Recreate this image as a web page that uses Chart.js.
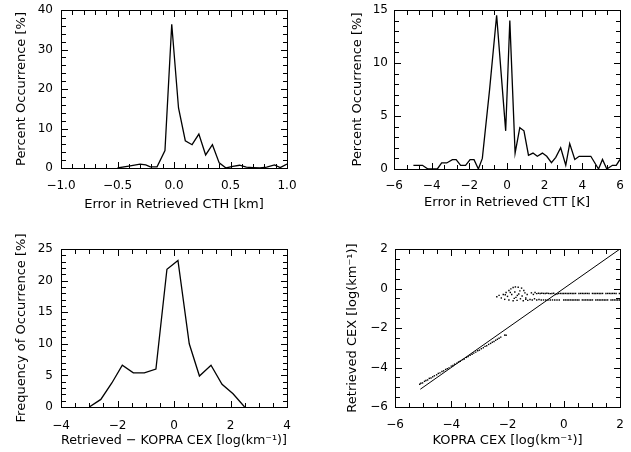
<!DOCTYPE html>
<html>
<head>
<meta charset="utf-8">
<script src="https://cdn.jsdelivr.net/npm/chart.js@4"></script>
<style>
    body { margin: 0; background: #fff; }
    #wrap { position: relative; width: 631px; height: 452px; }
    canvas { position: absolute; }
</style>
</head>
<body>
<div id="wrap">
    <canvas id="cthChart" width="316" height="226" style="left:0;top:0"></canvas>
    <canvas id="cttChart" width="315" height="226" style="left:316px;top:0"></canvas>
    <canvas id="cexHist" width="316" height="226" style="left:0;top:226px"></canvas>
    <canvas id="cexScatter" width="315" height="226" style="left:316px;top:226px"></canvas>
</div>
<script>
// Error in retrieved CTH [km]
const cthErr = [-0.50, -0.40, -0.30, -0.25, -0.21, -0.15, -0.08, -0.02, 0.04, 0.10, 0.16, 0.22, 0.28, 0.34, 0.40, 0.46, 0.52, 0.58, 0.64, 0.70, 0.76, 0.82, 0.89, 0.94, 1.00];
const cthPct = [0, 0.5, 1.0, 0.8, 0.3, 0.3, 4.4, 36.4, 15.2, 6.9, 5.9, 8.6, 3.3, 5.9, 1.3, 0, 0.4, 0.7, 0.2, 0.1, 0, 0.2, 0.8, 0.1, 1.0];

// Error in retrieved CTT [K]
const cttErr = [-4.97, -4.49, -4.2, -3.7, -3.47, -3.2, -2.9, -2.7, -2.46, -2.2, -1.96, -1.75, -1.52, -1.31, -0.93, -0.55, -0.31, -0.07, 0.15, 0.43, 0.68, 0.90, 1.14, 1.38, 1.61, 1.88, 2.11, 2.36, 2.59, 2.85, 3.12, 3.33, 3.6, 3.83, 4.45, 4.86, 5.07, 5.3, 5.6, 5.8, 6.0];
const cttPct = [0.35, 0.35, 0, 0, 0.57, 0.57, 0.88, 0.88, 0.35, 0.35, 0.88, 0.88, 0, 1.0, 7.4, 14.5, 9.0, 3.6, 14.0, 1.5, 3.9, 3.6, 1.3, 1.5, 1.2, 1.5, 1.2, 0.6, 1.1, 2.0, 0.35, 2.4, 0.9, 1.2, 1.2, 0, 0.9, 0, 0.35, 0.35, 0.9];

// Retrieved - KOPRA CEX [log(km-1)]
const cexDiff = [-3.0, -2.59, -2.2, -1.83, -1.44, -1.05, -0.64, -0.25, 0.14, 0.54, 0.90, 1.31, 1.70, 2.09, 2.5];
const cexFreq = [0, 1.2, 3.8, 6.6, 5.4, 5.4, 6.0, 21.8, 23.2, 10.0, 4.9, 6.6, 3.6, 2.1, 0];

// KOPRA vs retrieved CEX, lower (optically thin) branch
const kopraLow = [-5.12, -5.08, -5.02, -4.95, -4.9, -4.84, -4.78, -4.72, -4.66, -4.6, -4.52, -4.46, -4.4, -4.33, -4.27, -4.2, -4.14, -4.08, -4.0, -3.94, -3.88, -3.8, -3.74, -3.68, -3.6, -3.54, -3.46, -3.4, -3.33, -3.26, -3.2, -3.13, -3.06, -3.0, -2.93, -2.86, -2.8, -2.74, -2.67, -2.6, -2.54, -2.48, -2.42, -2.36, -2.3, -2.24, -2.1, -2.05];
const retrLow = [-4.85, -4.80, -4.78, -4.70, -4.66, -4.63, -4.55, -4.53, -4.47, -4.42, -4.37, -4.30, -4.27, -4.20, -4.17, -4.10, -4.06, -4.02, -3.93, -3.90, -3.83, -3.78, -3.72, -3.68, -3.60, -3.57, -3.49, -3.45, -3.38, -3.33, -3.27, -3.22, -3.15, -3.12, -3.05, -3.00, -2.93, -2.90, -2.83, -2.78, -2.72, -2.68, -2.62, -2.57, -2.52, -2.46, -2.36, -2.37];

// upper (saturated) branch: cluster and two flat rows
const kopraUp = [-2.38, -2.30, -2.22, -2.15, -2.10, -2.05, -2.00, -1.95, -1.95, -1.88, -1.85, -1.80, -1.80, -1.74, -1.72, -1.70, -1.66, -1.62, -1.60, -1.56, -1.54, -1.50, -1.48, -1.44, -1.42, -1.38, -1.35, -1.30, -1.90, -1.65, -2.08, -1.76,
    -1.15, -1.08, -1.02, -0.96, -0.90, -0.84, -0.78, -0.72, -0.66, -0.60, -0.54, -0.48, -0.42, -0.36, -0.30, -0.24, -0.18, -0.12, -0.06, 0.0, 0.06, 0.12, 0.18, 0.24, 0.30, 0.36, 0.42, 0.54, 0.60, 0.66, 0.72, 0.78, 0.84, 0.90, 1.02, 1.08, 1.14, 1.20, 1.26, 1.32, 1.38, 1.50, 1.56, 1.62, 1.68, 1.74, 1.80, 1.86, 1.98,
    -1.35, -1.28, -1.20, -1.12, -1.04, -0.96, -0.88, -0.80, -0.72, -0.64, -0.56, -0.48, -0.40, -0.32, -0.24, -0.16, 0.0, 0.06, 0.12, 0.18, 0.24, 0.30, 0.36, 0.42, 0.48, 0.54, 0.66, 0.72, 0.78, 0.84, 0.90, 0.96, 1.02, 1.14, 1.20, 1.26, 1.32, 1.38, 1.44, 1.50, 1.56, 1.68, 1.74, 1.80, 1.86, 1.92, 1.98];
const retrUp = [-0.42, -0.35, -0.48, -0.30, -0.55, -0.20, -0.40, -0.10, -0.58, -0.02, -0.30, 0.05, -0.62, -0.18, 0.08, -0.45, -0.60, 0.06, -0.28, -0.12, -0.52, 0.02, -0.38, -0.62, -0.10, -0.22, -0.48, -0.30, -0.20, -0.35, -0.32, -0.50,
    -0.22, -0.30, -0.20, -0.26, -0.24, -0.25, -0.24, -0.25, -0.25, -0.24, -0.25, -0.26, -0.25, -0.24, -0.30, -0.28, -0.25, -0.25, -0.25, -0.25, -0.25, -0.25, -0.25, -0.25, -0.25, -0.25, -0.25, -0.25, -0.25, -0.25, -0.25, -0.25, -0.25, -0.25, -0.25, -0.25, -0.25, -0.25, -0.25, -0.25, -0.25, -0.25, -0.25, -0.25, -0.25, -0.25, -0.25, -0.25, -0.25,
    -0.55, -0.60, -0.56, -0.58, -0.52, -0.58, -0.56, -0.58, -0.58, -0.58, -0.58, -0.58, -0.58, -0.58, -0.58, -0.58, -0.58, -0.58, -0.58, -0.58, -0.58, -0.58, -0.58, -0.58, -0.58, -0.58, -0.58, -0.58, -0.58, -0.58, -0.58, -0.58, -0.58, -0.58, -0.58, -0.58, -0.58, -0.58, -0.58, -0.58, -0.58, -0.58, -0.58, -0.58, -0.58, -0.58, -0.58];

// 1:1 reference line
const oneToOne = [-5.1, 2.0];

Chart.defaults.font.family = "'DejaVu Sans', sans-serif";
Chart.defaults.color = "#000";
Chart.defaults.animation = false;

function pairs(xs, ys) {
    return xs.map(function (x, i) { return { x: x, y: ys[i] }; });
}

function minusSign(v) {
    return String(v).replace("-", "\u2212");
}

// IDL style frame: box with inward major/minor ticks on all four sides
function idlFrame(xMinor, yMinor) {
    return {
        id: "idlFrame",
        afterDraw(chart) {
            const ctx = chart.ctx;
            const a = chart.chartArea;
            const xs = chart.scales.x;
            const ys = chart.scales.y;
            const x0 = Math.round(a.left), x1 = Math.round(a.right);
            const y0 = Math.round(a.top), y1 = Math.round(a.bottom);
            ctx.save();
            ctx.fillStyle = "#000";
            ctx.fillRect(x0, y0, x1 - x0 + 1, 1);
            ctx.fillRect(x0, y1, x1 - x0 + 1, 1);
            ctx.fillRect(x0, y0, 1, y1 - y0 + 1);
            ctx.fillRect(x1, y0, 1, y1 - y0 + 1);
            const nx = Math.round((xs.max - xs.min) / xMinor);
            for (let i = 0; i <= nx; i++) {
                const v = xs.min + i * xMinor;
                const px = Math.round(xs.getPixelForValue(v));
                const major = xs.ticks.some(function (t) { return Math.abs(t.value - v) < 1e-6; });
                const len = major ? 6 : 4;
                ctx.fillRect(px, y1 - len, 1, len);
                ctx.fillRect(px, y0 + 1, 1, len);
            }
            const ny = Math.round((ys.max - ys.min) / yMinor);
            for (let i = 0; i <= ny; i++) {
                const v = ys.min + i * yMinor;
                const py = Math.round(ys.getPixelForValue(v));
                const major = ys.ticks.some(function (t) { return Math.abs(t.value - v) < 1e-6; });
                const len = major ? 6 : 4;
                ctx.fillRect(x0 + 1, py, len, 1);
                ctx.fillRect(x1 - len, py, len, 1);
            }
            ctx.restore();
        },
    };
}

function makeOptions(cfg) {
    return {
        responsive: false,
        layout: { padding: { left: 0, top: cfg.top, right: cfg.right, bottom: 0 } },
        plugins: {
            legend: { display: false },
            tooltip: { enabled: false },
        },
        scales: {
            x: {
                type: "linear",
                min: cfg.xMin,
                max: cfg.xMax,
                grid: { display: false, drawTicks: true, tickLength: cfg.xPad },
                border: { display: false },
                ticks: { stepSize: cfg.xStep, padding: 0, font: { size: 12 }, callback: cfg.xFmt, maxRotation: 0 },
                title: { display: true, text: cfg.xTitle, font: { size: 13 }, padding: { top: 0, bottom: cfg.xTitlePad } },
                afterFit: function (scale) { scale.height = cfg.xHeight; },
            },
            y: {
                type: "linear",
                min: cfg.yMin,
                max: cfg.yMax,
                grid: { display: false, drawTicks: true, tickLength: cfg.yPad },
                border: { display: false },
                ticks: { stepSize: cfg.yStep, padding: 0, font: { size: 12 }, callback: minusSign },
                title: { display: true, text: cfg.yTitle, font: { size: 13 }, padding: { top: cfg.yTitlePad, bottom: 0 } },
                afterFit: function (scale) { scale.width = cfg.yWidth; },
            },
        },
    };
}

function lineSet(xs, ys) {
    return {
        data: pairs(xs, ys),
        borderColor: "#000",
        borderWidth: 1.3,
        pointRadius: 0,
        tension: 0,
        fill: false,
    };
}

document.addEventListener("DOMContentLoaded", function () {
    // CTH error histogram
    new Chart(document.getElementById("cthChart").getContext("2d"), {
        type: "line",
        data: { datasets: [lineSet(cthErr, cthPct)] },
        options: makeOptions({
            top: 10, right: 29, xHeight: 58, yWidth: 61,
            xMin: -1, xMax: 1, xStep: 0.5,
            yMin: 0, yMax: 40, yStep: 10,
            xFmt: function (v) { return minusSign(v.toFixed(1)); },
            xPad: 11, yPad: 8, xTitlePad: 14, yTitlePad: 14,
            xTitle: "Error in Retrieved CTH [km]",
            yTitle: "Percent Occurrence [%]",
        }),
        plugins: [idlFrame(0.1, 2)],
    });

    // CTT error histogram
    new Chart(document.getElementById("cttChart").getContext("2d"), {
        type: "line",
        data: { datasets: [lineSet(cttErr, cttPct)] },
        options: makeOptions({
            top: 10, right: 11, xHeight: 57, yWidth: 78,
            xMin: -6, xMax: 6, xStep: 2,
            yMin: 0, yMax: 15, yStep: 5,
            xFmt: minusSign,
            xPad: 10, yPad: 6, xTitlePad: 16, yTitlePad: 34,
            xTitle: "Error in Retrieved CTT [K]",
            yTitle: "Percent Occurrence [%]",
        }),
        plugins: [idlFrame(2 / 3, 1)],
    });

    // CEX difference histogram
    new Chart(document.getElementById("cexHist").getContext("2d"), {
        type: "line",
        data: { datasets: [lineSet(cexDiff, cexFreq)] },
        options: makeOptions({
            top: 23, right: 29, xHeight: 45, yWidth: 61,
            xMin: -4, xMax: 4, xStep: 2,
            yMin: 0, yMax: 25, yStep: 5,
            xFmt: minusSign,
            xPad: 12, yPad: 8, xTitlePad: 4, yTitlePad: 14,
            xTitle: "Retrieved \u2212 KOPRA CEX [log(km\u207B\u00B9)]",
            yTitle: "Frequency of Occurrence [%]",
        }),
        plugins: [idlFrame(0.5, 1)],
    });

    // KOPRA vs retrieved CEX scatter
    new Chart(document.getElementById("cexScatter").getContext("2d"), {
        type: "scatter",
        data: {
            datasets: [
                {
                    type: "line",
                    data: pairs(oneToOne, oneToOne),
                    borderColor: "#000",
                    borderWidth: 1,
                    pointRadius: 0,
                },
                {
                    data: pairs(kopraLow, retrLow),
                    backgroundColor: "#000",
                    borderWidth: 0,
                    pointStyle: "rect",
                    pointRadius: 1,
                },
                {
                    data: pairs(kopraUp, retrUp),
                    backgroundColor: "#000",
                    borderWidth: 0,
                    pointStyle: "rect",
                    pointRadius: 1,
                },
            ],
        },
        options: makeOptions({
            top: 23, right: 11, xHeight: 45, yWidth: 79,
            xMin: -6, xMax: 2, xStep: 2,
            yMin: -6, yMax: 2, yStep: 2,
            xFmt: minusSign,
            xPad: 11, yPad: 7, xTitlePad: 4, yTitlePad: 29,
            xTitle: "KOPRA CEX [log(km\u207B\u00B9)]",
            yTitle: "Retrieved CEX [log(km\u207B\u00B9)]",
        }),
        plugins: [idlFrame(0.5, 0.5)],
    });
});
</script>
</body>
</html>
